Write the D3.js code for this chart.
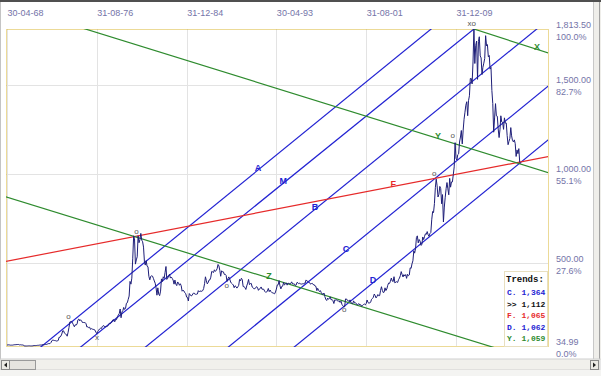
<!DOCTYPE html>
<html>
<head>
<meta charset="utf-8">
<script src="https://cdn.jsdelivr.net/npm/d3@7"></script>
<style>
  body { margin: 0; background: #fff; }
  svg { display: block; font-family: "Liberation Sans", Arial, sans-serif; }
</style>
</head>
<body>
<div id="chart"></div>
<script>
// ---- data ----
// monthly closes, first value = April 1968
const firstMonth = [1968, 4];
const goldClose = [
  39.6, 41.6, 41.3, 40.7, 39.6, 39.9, 39.9, 40.9, 41.9,
  42.2, 42.5, 43.2, 43.4, 43.4, 41.2, 42.0, 41.1, 40.9, 40.4, 36.0, 35.2,
  34.99, 35.0, 35.4, 35.8, 35.9, 35.4, 35.3, 35.4, 36.2, 37.5, 37.4, 37.4,
  38.0, 38.7, 38.9, 39.9, 40.5, 40.1, 41.0, 42.8, 42.6, 42.6, 43.5, 43.6,
  46.0, 48.3, 48.3, 49.0, 54.6, 65.1, 67.8, 67.0, 65.5, 64.9, 62.9, 63.9,
  66.0, 84.0, 84.0, 90.5, 102.0, 120.0, 120.0, 106.8, 103.0, 100.1, 90.0, 112.3,
  139.3, 170.0, 172.0, 173.0, 163.3, 154.1, 143.0, 154.1, 151.8, 158.8, 181.8, 186.5,
  175.8, 181.8, 177.3, 167.0, 167.0, 166.3, 166.7, 159.8, 141.3, 142.9, 138.2, 140.3,
  128.2, 132.3, 129.6, 128.4, 126.8, 123.8, 112.5, 104.0, 116.0, 123.2, 130.3, 134.5,
  132.3, 142.8, 148.9, 147.9, 143.0, 143.0, 144.1, 146.0, 154.1, 162.3, 160.5, 164.9,
  175.3, 182.3, 181.6, 170.9, 184.2, 183.1, 200.3, 208.7, 217.1, 242.6, 193.4, 226.0,
  233.7, 251.3, 240.1, 245.3, 274.6, 277.5, 296.5, 315.1, 397.3, 382.0, 415.7, 524.0,
  653.0, 637.0, 494.5, 518.0, 535.5, 653.5, 614.3, 631.3, 666.8, 629.0, 619.8, 589.8,
  506.5, 489.0, 513.8, 482.8, 479.7, 426.0, 406.0, 425.5, 428.8, 427.0, 414.5, 400.0,
  387.0, 362.6, 320.0, 361.3, 325.8, 317.5, 342.9, 411.5, 397.0, 423.3, 414.3, 448.0,
  481.0, 408.5, 414.8, 429.3, 437.5, 416.0, 422.0, 414.3, 405.0, 382.0, 405.0, 382.4,
  373.8, 394.3, 388.5, 375.8, 384.3, 373.1, 342.4, 348.3, 343.8, 333.5, 329.0, 309.0,
  306.7, 287.8, 329.3, 321.4, 316.4, 317.8, 327.5, 333.3, 326.5, 325.1, 325.3, 326.8,
  345.5, 339.3, 344.8, 340.5, 342.9, 345.8, 357.5, 384.7, 423.2, 401.0, 383.5, 390.9,
  405.5, 405.9, 421.1, 453.3, 451.0, 447.3, 462.5, 453.4, 459.0, 468.8, 492.5, 484.1,
  458.0, 426.2, 457.0, 451.4, 451.0, 436.6, 437.4, 431.0, 397.1, 412.4, 422.6, 410.2,
  394.0, 387.0, 382.7, 377.6, 362.0, 373.0, 368.3, 359.8, 366.5, 375.3, 408.2, 401.0,
  415.1, 407.7, 368.5, 367.8, 363.1, 352.2, 372.3, 387.8, 408.4, 379.5, 384.9, 386.2,
  366.0, 362.7, 355.7, 357.2, 360.4, 368.4, 362.9, 347.4, 354.9, 357.5, 366.3, 353.2,
  354.1, 353.1, 341.7, 336.4, 337.5, 343.4, 357.9, 340.0, 349.0, 339.3, 334.2, 332.9,
  330.5, 327.6, 337.8, 354.3, 377.5, 378.5, 401.8, 371.6, 355.5, 369.6, 370.9, 391.8,
  377.9, 381.6, 389.2, 376.5, 387.6, 385.8, 384.0, 385.8, 394.9, 383.1, 383.1, 383.3,
  374.9, 376.4, 392.0, 389.8, 384.3, 387.1, 383.4, 382.4, 384.0, 382.7, 387.8, 387.0,
  405.6, 400.7, 396.4, 391.8, 390.6, 382.0, 385.3, 386.5, 379.0, 379.5, 371.3, 369.3,
  345.5, 358.6, 348.2, 340.2, 345.6, 334.6, 326.4, 325.4, 332.1, 311.4, 296.8, 290.2,
  303.9, 297.4, 301.0, 310.7, 293.6, 296.3, 288.9, 273.4, 293.9, 292.3, 294.7, 287.8,
  287.1, 287.3, 279.5, 286.6, 268.6, 261.0, 255.6, 254.8, 299.0, 299.1, 291.4, 290.3,
  283.3, 293.7, 278.4, 275.1, 272.3, 288.2, 276.8, 277.0, 273.7, 264.5, 269.1, 272.7,
  264.5, 266.7, 257.7, 263.2, 267.5, 270.6, 265.9, 273.0, 293.1, 278.8, 275.5, 276.5,
  282.3, 296.9, 301.4, 308.2, 326.6, 318.5, 304.7, 312.8, 323.7, 316.9, 317.7, 347.2,
  367.5, 347.5, 334.9, 336.8, 361.4, 346.0, 354.8, 375.6, 388.0, 386.3, 398.4, 416.3,
  399.8, 395.9, 423.7, 388.5, 393.3, 395.8, 391.4, 407.3, 415.7, 429.4, 452.4, 435.6,
  422.2, 435.5, 427.5, 435.7, 414.5, 437.1, 429.0, 433.3, 473.3, 470.8, 495.7, 513.0,
  568.8, 556.0, 582.0, 644.0, 653.0, 613.5, 632.5, 623.5, 599.3, 603.8, 646.7, 632.0,
  650.5, 664.2, 661.8, 677.0, 659.1, 650.5, 665.5, 672.0, 743.0, 789.5, 783.5, 833.8,
  923.3, 971.5, 933.5, 871.0, 885.8, 930.3, 918.0, 833.0, 884.5, 730.8, 814.5, 869.8,
  919.5, 952.0, 916.5, 883.3, 975.5, 926.0, 955.5, 955.5, 995.8, 1040.0, 1175.8, 1087.5,
  1078.5, 1108.3, 1113.3, 1179.3, 1207.5, 1244.0, 1169.0, 1246.0, 1307.0, 1346.8, 1386.0, 1405.5,
  1327.0, 1411.0, 1439.0, 1535.5, 1536.5, 1505.5, 1628.5, 1813.5, 1620.0, 1722.0, 1746.0, 1531.0,
  1744.0, 1770.0, 1662.5, 1651.3, 1558.0, 1598.5, 1622.0, 1648.5, 1776.0, 1719.0, 1726.0, 1657.5,
  1664.8, 1588.5, 1598.3, 1469.0, 1394.5, 1234.5, 1314.5, 1394.8, 1326.5, 1324.0, 1253.0, 1204.5,
  1251.0, 1326.5, 1291.8, 1288.5, 1250.5, 1315.0, 1285.3, 1285.8, 1216.5, 1164.3, 1182.8, 1199.3,
  1260.3, 1214.0, 1187.0, 1180.3, 1191.4, 1171.0, 1098.4, 1135.0, 1114.0, 1142.4, 1065.0, 1060.0
];

const xTickDates = ["1968-04-30", "1976-08-31", "1984-12-31", "1993-04-30", "2001-08-31", "2009-12-31"];
const yTickValues = [34.99, 500, 1000, 1500, 1813.5];
const yTickPercent = ["0.0%", "27.6%", "55.1%", "82.7%", "100.0%"];

// trend lines: two anchor points each (date, price)
const trendNames = ["A", "M", "B", "C", "D", "F", "X", "Y", "Z"];
const trendKind = ["channel", "channel", "channel", "channel", "channel", "fan", "down", "down", "down"];
const trendFrom = [
  ["1971-08-01", 34.99], ["1975-04-15", 34.99], ["1981-04-20", 34.99], ["1988-12-28", 34.99],
  ["1995-02-07", 34.99], ["1968-04-01", 510], ["2011-08-31", 1813.5], ["1975-08-10", 1813.5],
  ["1968-04-01", 871]
];
const trendTo = [
  ["2007-09-10", 1813.5], ["2011-08-31", 1813.5], ["2017-07-01", 1813.5], ["2018-05-01", 1482],
  ["2018-05-01", 1180], ["2018-05-01", 1095], ["2018-05-01", 1683], ["2018-05-01", 1012],
  ["2013-01-25", 34.99]
];
const trendLabelDate = ["1991-08-15", "1993-12-15", "1996-11-30", "1999-10-15", "2002-04-20",
  "2004-03-01", "2017-07-10", "2008-04-30", "1992-08-25"];

// pivot marks
const markDates = ["1974-01-15", "1976-09-10", "1980-05-10", "1988-09-20", "1999-08-15",
  "2007-12-20", "2009-09-10", "2011-06-20"];
const markValues = [198, 80, 675, 372, 237, 1000, 1213, 1842];
const markTexts = ["o", "x", "o", "o", "o", "o", "o", "xo"];

// legend rows
const legendRows = ["C. 1,364", ">> 1,112", "F. 1,065", "D. 1,062", "Y. 1,059"];
const legendKind = ["channel", "none", "fan", "channel", "down"];

// ---- drawing ----
const width = 601, height = 376;
const plot = { left: 6, right: 548, top: 29, bottom: 346 };
const colors = { channel: "#2222d2", fan: "#e62a2a", down: "#2e8b2e", none: "#111" };
const labelColor = "#7474a8";
const parseDate = d3.timeParse("%Y-%m-%d");

const points = goldClose.map((v, i) => ({
  date: new Date(firstMonth[0], firstMonth[1] - 1 + i + 1, 0),
  value: v
}));

const svg = d3.select("#chart").append("svg")
  .attr("width", width)
  .attr("height", height);

svg.append("rect").attr("width", width).attr("height", height).attr("fill", "#fff");

const xScale = d3.scaleTime()
  .domain([parseDate("1968-04-30"), parseDate("2009-12-31")])
  .range([7, 456]);

const yScale = d3.scaleLinear()
  .domain([34.99, 1813.5])
  .range([plot.bottom, plot.top]);

// grid
const grid = svg.append("g");
grid.selectAll(".vgrid")
  .data(xTickDates.map(parseDate))
  .enter().append("line")
  .attr("x1", d => Math.round(xScale(d)) + 0.5)
  .attr("x2", d => Math.round(xScale(d)) + 0.5)
  .attr("y1", plot.top).attr("y2", plot.bottom)
  .attr("stroke", "#e3e3e3");
grid.selectAll(".hgrid")
  .data(yTickValues.slice(1, -1))
  .enter().append("line")
  .attr("x1", plot.left).attr("x2", plot.right)
  .attr("y1", d => Math.round(yScale(d)) + 0.5)
  .attr("y2", d => Math.round(yScale(d)) + 0.5)
  .attr("stroke", "#e3e3e3");

// plot border (dotted yellow)
svg.append("rect")
  .attr("x", plot.left + 0.5).attr("y", plot.top + 0.5)
  .attr("width", plot.right - plot.left).attr("height", plot.bottom - plot.top)
  .attr("fill", "none")
  .attr("stroke", "#d9b52e")
  .attr("stroke-dasharray", "1,1");

// top axis
const topAxis = svg.append("g")
  .attr("transform", "translate(0,16)")
  .call(d3.axisTop(xScale)
    .tickValues(xTickDates.map(parseDate))
    .tickSize(0)
    .tickFormat(d3.timeFormat("%d-%m-%y")));
topAxis.select(".domain").remove();
topAxis.selectAll("text")
  .attr("text-anchor", "start")
  .attr("y", 0).attr("dy", 0)
  .attr("fill", labelColor)
  .style("font-size", "9px");

// right axis: value + percent
const rightAxis = svg.append("g")
  .attr("transform", `translate(${plot.right + 8},0)`)
  .call(d3.axisRight(yScale).tickValues(yTickValues).tickSize(0).tickFormat(""));
rightAxis.select(".domain").remove();
rightAxis.selectAll(".tick text").remove();
rightAxis.selectAll(".tick").each(function (d, i) {
  const t = d3.select(this);
  t.append("text").attr("x", 0).attr("y", -2)
    .attr("fill", labelColor).style("font-size", "9px")
    .text(d3.format(",.2f")(d));
  t.append("text").attr("x", 0).attr("y", 10)
    .attr("fill", labelColor).style("font-size", "9px")
    .text(yTickPercent[i]);
});

// clip for plot marks
svg.append("clipPath").attr("id", "plotclip")
  .append("rect")
  .attr("x", plot.left).attr("y", plot.top)
  .attr("width", plot.right - plot.left).attr("height", plot.bottom - plot.top + 1);

const marks = svg.append("g").attr("clip-path", "url(#plotclip)");

// trend lines, extended across the plot
const trends = trendNames.map((name, i) => {
  const x1 = xScale(parseDate(trendFrom[i][0])), y1 = yScale(trendFrom[i][1]);
  const x2 = xScale(parseDate(trendTo[i][0])), y2 = yScale(trendTo[i][1]);
  const k = (y2 - y1) / (x2 - x1);
  const lx = xScale(parseDate(trendLabelDate[i]));
  return {
    name, kind: trendKind[i],
    ax: -50, ay: y1 + k * (-50 - x1),
    bx: 700, by: y1 + k * (700 - x1),
    lx, ly: y1 + k * (lx - x1)
  };
});

marks.selectAll(".trend")
  .data(trends)
  .enter().append("line")
  .attr("class", "trend")
  .attr("x1", d => d.ax).attr("y1", d => d.ay)
  .attr("x2", d => d.bx).attr("y2", d => d.by)
  .attr("stroke", d => colors[d.kind])
  .attr("stroke-width", 1.2);

// price line
const line = d3.line()
  .x(d => xScale(d.date))
  .y(d => yScale(d.value));

marks.append("path")
  .datum(points)
  .attr("d", line)
  .attr("fill", "none")
  .attr("stroke", "#1e1e78")
  .attr("stroke-width", 1);

// trend labels (sit just above their line)
svg.selectAll(".tlabel")
  .data(trends)
  .enter().append("text")
  .attr("x", d => d.lx)
  .attr("y", d => d.ly)
  .attr("dy", "0.05em")
  .attr("text-anchor", "middle")
  .attr("fill", d => colors[d.kind])
  .style("font-size", "9px")
  .style("font-weight", "bold")
  .text(d => d.name);

// pivot marks
svg.selectAll(".mark")
  .data(markTexts)
  .enter().append("text")
  .attr("x", (d, i) => xScale(parseDate(markDates[i])))
  .attr("y", (d, i) => yScale(markValues[i]))
  .attr("dy", "0.3em")
  .attr("text-anchor", "middle")
  .attr("fill", "#555")
  .style("font-size", "8px")
  .text(d => d);

// legend box
const lg = svg.append("g").attr("transform", "translate(504,271)");
lg.append("rect")
  .attr("x", 0.5).attr("y", 0.5)
  .attr("width", 43).attr("height", 75)
  .attr("fill", "#fff")
  .attr("stroke", "#e8dfc0");
lg.append("text")
  .attr("x", 2).attr("y", 11)
  .style("font-family", "'Liberation Mono', monospace")
  .style("font-size", "9px")
  .style("font-weight", "bold")
  .attr("fill", "#111")
  .text("Trends:");
lg.selectAll(".row")
  .data(legendRows)
  .enter().append("text")
  .attr("x", 3)
  .attr("y", (d, i) => 24 + i * 11.5)
  .style("font-family", "'Liberation Mono', monospace")
  .style("font-size", "8px")
  .style("font-weight", "bold")
  .attr("fill", (d, i) => colors[legendKind[i]])
  .text(d => d);

// window frame bits: top edge, right strip, bottom scrollbar
svg.append("rect").attr("x", 0).attr("y", 0).attr("width", width).attr("height", 2).attr("fill", "#505050");
svg.append("rect").attr("x", 0).attr("y", 2).attr("width", 1).attr("height", 358).attr("fill", "#c4c4c4");
svg.append("rect").attr("x", 593).attr("y", 2).attr("width", 8).attr("height", 358).attr("fill", "#efeeea");
svg.append("line").attr("x1", 593.5).attr("x2", 593.5).attr("y1", 2).attr("y2", 360).attr("stroke", "#c8c8c8");
svg.append("line").attr("x1", 599.5).attr("x2", 599.5).attr("y1", 2).attr("y2", 376).attr("stroke", "#a0a0a0");

const sb = svg.append("g").attr("transform", "translate(0,359)");
sb.append("rect").attr("x", 0).attr("y", 0).attr("width", 600).attr("height", 11)
  .attr("fill", "#f1f0ec").attr("stroke", "#d0d0d0");
sb.append("rect").attr("x", 1.5).attr("y", 1.5).attr("width", 34).attr("height", 9)
  .attr("fill", "#e6e4df").attr("stroke", "#9a9a9a");
sb.append("rect").attr("x", 1.5).attr("y", 1.5).attr("width", 8).attr("height", 9)
  .attr("fill", "#ecebe6").attr("stroke", "#8a8a8a");
sb.append("path").attr("d", "M7,3.5 L4,6 L7,8.5 Z").attr("fill", "#222");
sb.append("rect").attr("x", 590.5).attr("y", 1.5).attr("width", 8).attr("height", 9)
  .attr("fill", "#ecebe6").attr("stroke", "#8a8a8a");
sb.append("path").attr("d", "M593,3.5 L596,6 L593,8.5 Z").attr("fill", "#222");
svg.append("rect").attr("x", 0).attr("y", 370).attr("width", width).attr("height", 6).attr("fill", "#f4f4f2");
</script>
</body>
</html>
